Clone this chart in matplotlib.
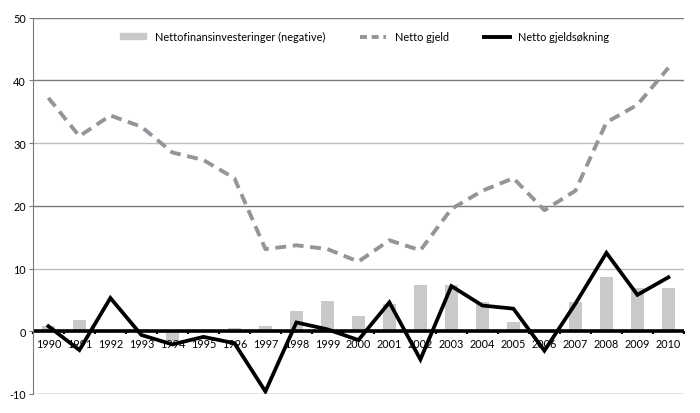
import numpy as np
import matplotlib.pyplot as plt
from matplotlib.lines import Line2D
from matplotlib.patches import Patch

# --- data ---
years = [str(y) for y in range(1990, 2011)]
nettofinans = [0.9, 1.8, -0.3, -0.2, -1.5, 0.2, 0.5, 0.9, 3.2, 4.8, 2.4,
               4.4, 7.3, 7.4, 4.6, 1.4, -0.3, 4.6, 8.7, 6.9, 6.9]
netto_gjeld = [37.2, 31.1, 34.4, 32.6, 28.5, 27.3, 24.4, 13.1, 13.7, 13.1, 11.1,
               14.5, 12.9, 19.5, 22.4, 24.4, 19.3, 22.4, 33.3, 36.1, 42.0]
gjeldsokning = [0.8, -3.0, 5.3, -0.6, -2.1, -0.9, -1.9, -9.6, 1.4, 0.3, -1.4,
                4.6, -4.5, 7.2, 4.1, 3.6, -3.1, 4.4, 12.5, 5.8, 8.6]
yticks = [-10, 0, 10, 20, 30, 40, 50]

plt.rcParams['font.family'] = ['Lato', 'DejaVu Sans']

fig = plt.figure(figsize=(7, 4.14), dpi=100)
ax = fig.add_axes([0.047, 0.046, 0.93, 0.909])

x = np.arange(len(years))

# gridlines (alternating shades like the reference)
for v in yticks:
    shade = '#bdbdbd' if v in (10, 30) else '#7a7a7a'
    ax.axhline(v, color=shade, lw=1.0, zorder=0)

ax.bar(x, nettofinans, width=0.4, color='#c8c9cb', zorder=1)
ax.axhline(0, color='black', lw=2.6, zorder=2)
ax.plot(x, netto_gjeld, color='#939598', lw=2.8, dashes=(2.8, 1.7),
        dash_capstyle='butt', solid_joinstyle='miter', zorder=3)
ax.plot(x, gjeldsokning, color='black', lw=2.7, solid_joinstyle='miter', zorder=4)

ax.set_xlim(-0.5, len(years) - 0.5)
ax.set_ylim(-10, 50)
ax.set_yticks(yticks)
ax.set_yticklabels([str(v) for v in yticks], fontsize=7.8)
ax.tick_params(axis='y', length=3, width=0.8, color='#7a7a7a', pad=2)

# x axis sits on zero
ax.spines['bottom'].set_position(('data', 0))
ax.spines['bottom'].set_visible(False)
ax.spines['top'].set_visible(False)
ax.spines['right'].set_visible(False)
ax.spines['left'].set_color('#7a7a7a')
ax.spines['left'].set_linewidth(0.8)
ax.set_xticks(x)
ax.set_xticklabels(years, fontsize=7.8)
ax.set_xticks(np.arange(len(years) + 1) - 0.5, minor=True)
ax.tick_params(axis='x', which='major', length=0, pad=5)
ax.tick_params(axis='x', which='minor', length=2.5, width=1.5, color='black')

handles = [Patch(color='#c8c9cb'),
           Line2D([], [], color='#939598', lw=2.8, dashes=(1.8, 1.2)),
           Line2D([], [], color='black', lw=2.8)]
labels = ['Nettofinansinvesteringer (negative)', 'Netto gjeld', 'Netto gjeldsøkning']
ax.legend(handles, labels, loc='center', bbox_to_anchor=(0.51, 0.95), ncol=3,
          frameon=False, fontsize=7.8, handlelength=2.4, handleheight=0.5,
          columnspacing=3.2, handletextpad=0.8)

fig.savefig('out.png', dpi=100)
